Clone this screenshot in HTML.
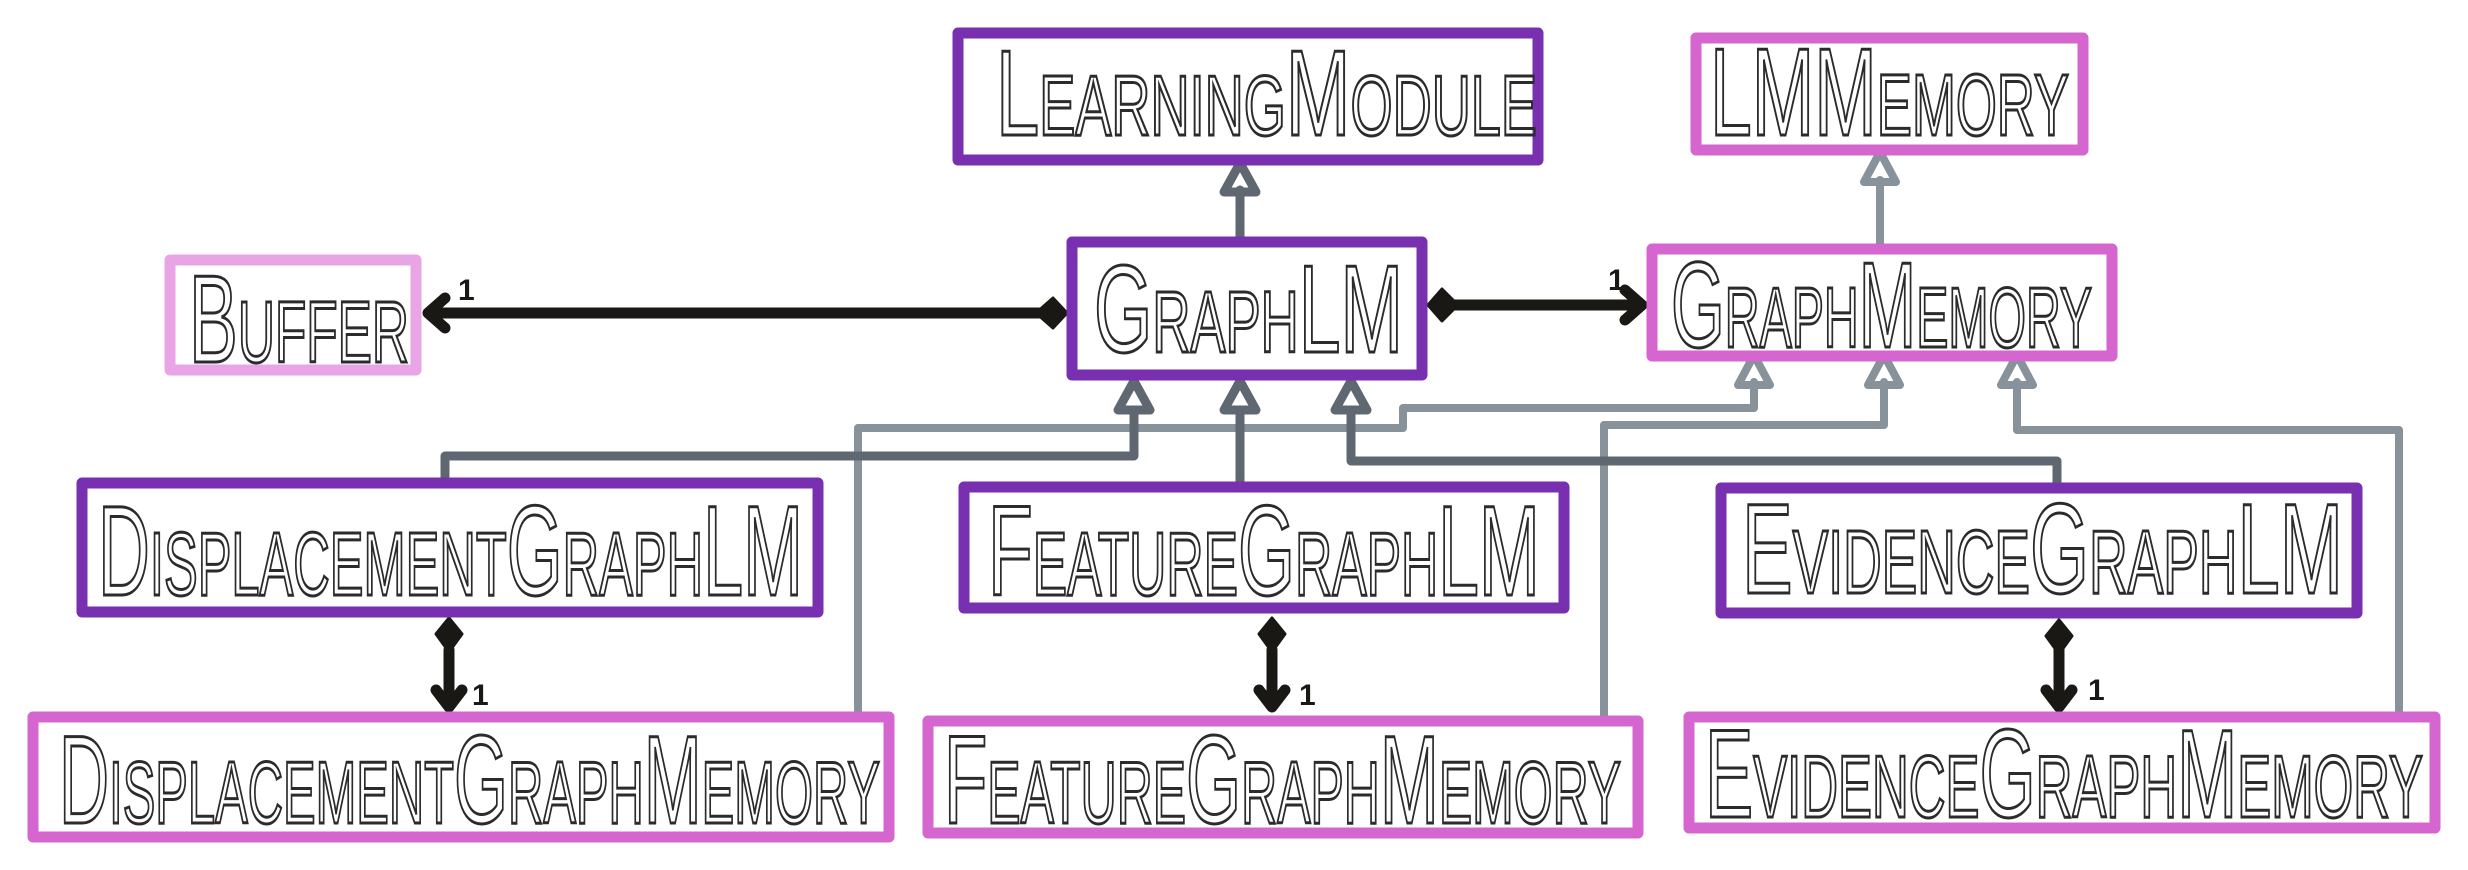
<!DOCTYPE html>
<html><head><meta charset="utf-8"><style>
html,body{margin:0;padding:0;background:#fff;}
svg{display:block;}
text{font-family:"Liberation Sans",sans-serif;font-variant:small-caps;fill:none;stroke:#2b2b2b;stroke-width:3;}
</style></head><body>
<svg width="2468" height="870" viewBox="0 0 2468 870" xmlns="http://www.w3.org/2000/svg">
<defs>
<marker id="tri" markerWidth="40" markerHeight="40" refX="17" refY="3" orient="auto" markerUnits="userSpaceOnUse"></marker>
</defs>
<g fill="none" stroke-linejoin="round" stroke-linecap="round">
<!-- light gray inheritance lines -->
<g stroke="#87929b" stroke-width="8">
<path d="M1880 244 V180"/>
<path d="M858 712 V428 H1403 V408 H1754 V382"/>
<path d="M1604 716 V425 H1884 V382"/>
<path d="M2399 712 V430 H2017 V382"/>
<path d="M1864 182 L1880 152 L1896 182 Z"/>
<path d="M1738 385 L1754 355 L1770 385 Z"/>
<path d="M1868 385 L1884 355 L1900 385 Z"/>
<path d="M2001 385 L2017 355 L2033 385 Z"/>
</g>
<!-- dark gray inheritance lines -->
<g stroke="#5f6870" stroke-width="9">
<path d="M1240 237 V190"/>
<path d="M1224 192 L1240 163 L1256 192 Z"/>
<path d="M445 478 V456 H1134 V410"/>
<path d="M1118 410 L1134 381 L1150 410 Z"/>
<path d="M1240 485 V410"/>
<path d="M1224 410 L1240 381 L1256 410 Z"/>
<path d="M2057 483 V461 H1351 V410"/>
<path d="M1335 410 L1351 381 L1367 410 Z"/>
</g>
<!-- composition lines -->
<g stroke="#1a1815" stroke-width="11">
<path d="M430 313 H1040"/>
<path d="M445 298 L428 313 L445 328"/>
<path d="M1455 305 H1640"/>
<path d="M1625 290 L1642 305 L1625 320"/>
<path d="M449 650 V705"/>
<path d="M436 690 L449 707 L462 690"/>
<path d="M1272 650 V705"/>
<path d="M1259 690 L1272 707 L1285 690"/>
<path d="M2059 650 V705"/>
<path d="M2046 690 L2059 707 L2072 690"/>
</g>
<g fill="#1a1815" stroke="#1a1815" stroke-width="3">
<path d="M1067 313 L1053 298 L1036 313 L1053 328 Z"/>
<path d="M1428 305 L1442 289 L1458 305 L1442 321 Z"/>
<path d="M449 618 L462 634 L449 652 L436 634 Z"/>
<path d="M1272 618 L1285 634 L1272 652 L1259 634 Z"/>
<path d="M2059 620 L2072 636 L2059 654 L2046 636 Z"/>
</g>
<!-- boxes -->
<g stroke-width="11">
<rect x="958" y="33" width="580" height="127" stroke="#782fb0"/>
<rect x="1696" y="38" width="387" height="112" stroke="#d565cf"/>
<rect x="170" y="260" width="246" height="110" stroke="#e8a4e4"/>
<rect x="1072" y="242" width="350" height="133" stroke="#782fb0"/>
<rect x="1652" y="249" width="460" height="107" stroke="#d565cf"/>
<rect x="82" y="483" width="736" height="129" stroke="#782fb0"/>
<rect x="33" y="717" width="856" height="120" stroke="#d565cf"/>
<rect x="964" y="487" width="600" height="121" stroke="#782fb0"/>
<rect x="928" y="721" width="710" height="112" stroke="#d565cf"/>
<rect x="1721" y="488" width="636" height="125" stroke="#782fb0"/>
<rect x="1689" y="717" width="746" height="111" stroke="#d565cf"/>
</g>
</g>
<!-- multiplicities -->
<g style="font-variant:normal;fill:#1a1815;stroke:none;font-weight:bold;font-size:30px;font-family:'Liberation Sans',sans-serif">
<text x="458" y="300" style="fill:#1a1815;stroke:none;font-variant:normal">1</text>
<text x="1608" y="290" style="fill:#1a1815;stroke:none;font-variant:normal">1</text>
<text x="472" y="705" style="fill:#1a1815;stroke:none;font-variant:normal">1</text>
<text x="1299" y="705" style="fill:#1a1815;stroke:none;font-variant:normal">1</text>
<text x="2088" y="700" style="fill:#1a1815;stroke:none;font-variant:normal">1</text>
</g>
<!-- labels -->
<text x="996" y="135" font-size="122" textLength="541" lengthAdjust="spacingAndGlyphs">LearningModule</text>
<text x="1710" y="135" font-size="124" textLength="359" lengthAdjust="spacingAndGlyphs">LMMemory</text>
<text x="189" y="362" font-size="124" textLength="220" lengthAdjust="spacingAndGlyphs">Buffer</text>
<text x="1094" y="352" font-size="124" textLength="309" lengthAdjust="spacingAndGlyphs">GraphLM</text>
<text x="1671" y="347" font-size="122" textLength="421" lengthAdjust="spacingAndGlyphs">GraphMemory</text>
<text x="98" y="595" font-size="128" textLength="705" lengthAdjust="spacingAndGlyphs">DisplacementGraphLM</text>
<text x="59" y="823" font-size="125" textLength="821" lengthAdjust="spacingAndGlyphs">DisplacementGraphMemory</text>
<text x="988" y="595" font-size="128" textLength="552" lengthAdjust="spacingAndGlyphs">FeatureGraphLM</text>
<text x="944" y="823" font-size="125" textLength="677" lengthAdjust="spacingAndGlyphs">FeatureGraphMemory</text>
<text x="1742" y="593" font-size="128" textLength="601" lengthAdjust="spacingAndGlyphs">EvidenceGraphLM</text>
<text x="1705" y="817" font-size="125" textLength="718" lengthAdjust="spacingAndGlyphs">EvidenceGraphMemory</text>
</svg>
</body></html>
